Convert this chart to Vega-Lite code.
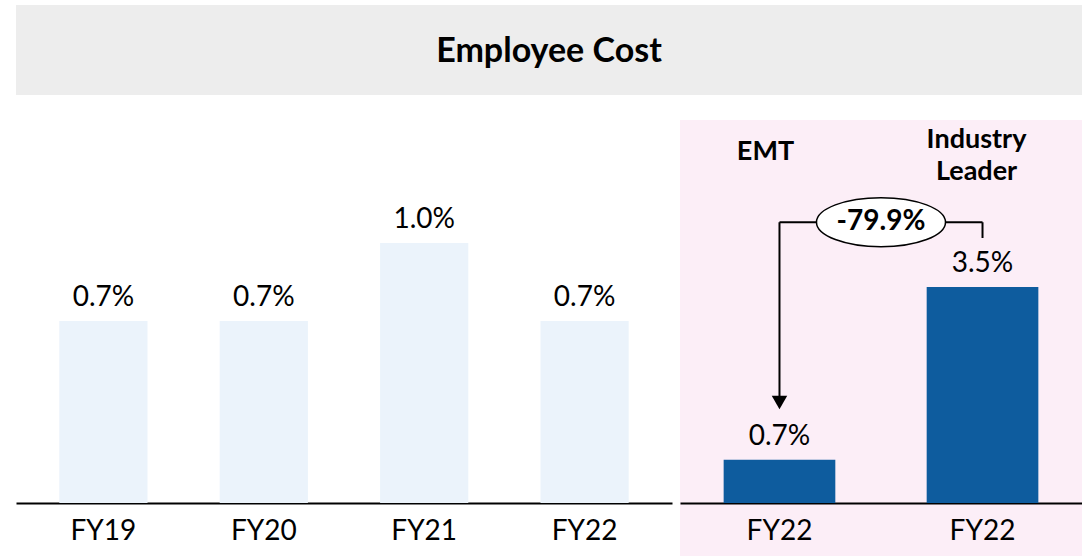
{
  "$schema": "https://vega.github.io/schema/vega-lite/v6.json",
  "padding": {"left": 16, "top": 5, "right": 0, "bottom": 0},
  "background": "white",
  "config": {"font": "Lato", "view": {"stroke": null}},
  "spacing": 25,
  "vconcat": [
    {
      "width": 1066,
      "height": 90,
      "view": {"fill": "#EDEDED", "stroke": null},
      "data": {"values": [{"title": "Employee Cost"}]},
      "mark": {"type": "text", "fontSize": 34, "fontWeight": "bold", "color": "black", "baseline": "middle", "align": "center", "dy": 2},
      "encoding": {"text": {"field": "title"}}
    },
    {
      "spacing": 8,
      "hconcat": [
        {
          "width": 656,
          "height": 436,
          "data": {"values": [
            {"year": "FY19", "value": 0.007},
            {"year": "FY20", "value": 0.007},
            {"year": "FY21", "value": 0.010},
            {"year": "FY22", "value": 0.007}
          ]},
          "encoding": {
            "x": {"field": "year", "type": "nominal", "sort": null,
              "scale": {"paddingInner": 0.45, "paddingOuter": 0.27},
              "axis": {"title": null, "orient": "bottom", "offset": -53, "domainColor": "black", "domainWidth": 2, "ticks": false, "labelFontSize": 28, "labelColor": "black", "labelPadding": 14, "labelAngle": 0}},
            "y": {"field": "value", "type": "quantitative", "scale": {"domain": [-0.00204, 0.01473], "nice": false, "zero": false}, "axis": null}
          },
          "layer": [
            {"mark": {"type": "bar", "color": "#EBF3FB"}, "encoding": {"y2": {"datum": 0}}},
            {"mark": {"type": "text", "baseline": "bottom", "dy": -9, "fontSize": 28, "color": "black"},
             "encoding": {"text": {"field": "value", "format": ".1%"}}}
          ]
        },
        {
          "width": 402,
          "height": 436,
          "view": {"fill": "#FCEEF7", "stroke": null},
          "encoding": {
            "x": {"field": "key", "type": "nominal", "sort": null,
              "scale": {"domain": ["EMT|FY22", "Industry Leader|FY22"], "paddingInner": 0.45, "paddingOuter": 0.215},
              "axis": {"title": null, "orient": "bottom", "offset": -53, "domainColor": "black", "domainWidth": 2, "ticks": false, "labelFontSize": 28, "labelColor": "black", "labelPadding": 14, "labelAngle": 0, "labelExpr": "split(datum.label, '|')[1]"}},
            "y": {"type": "quantitative", "scale": {"domain": [-0.00859, 0.06207], "nice": false, "zero": false}, "axis": null}
          },
          "layer": [
            {
              "data": {"values": [
                {"key": "EMT|FY22", "value": 0.007},
                {"key": "Industry Leader|FY22", "value": 0.035}
              ]},
              "layer": [
                {"mark": {"type": "bar", "color": "#0E5C9E"}, "encoding": {"y": {"field": "value"}, "y2": {"datum": 0}}},
                {"mark": {"type": "text", "baseline": "bottom", "dy": -9, "fontSize": 28, "color": "black"},
                 "encoding": {"y": {"field": "value"}, "text": {"field": "value", "format": ".1%"}}}
              ]
            },
            {
              "data": {"values": [
                {"key": "EMT|FY22", "header": ["EMT"], "hy": 0.0569}
              ]},
              "mark": {"type": "text", "fontSize": 27, "fontWeight": "bold", "color": "black", "baseline": "middle", "lineHeight": 32, "dx": -14},
              "encoding": {"y": {"field": "hy"}, "text": {"field": "header"}}
            },
            {
              "data": {"values": [
                {"key": "Industry Leader|FY22", "header": ["Industry", "Leader"], "hy": 0.0588}
              ]},
              "mark": {"type": "text", "fontSize": 27, "fontWeight": "bold", "color": "black", "baseline": "middle", "lineHeight": 32, "dx": -6},
              "encoding": {"y": {"field": "hy"}, "text": {"field": "header"}}
            },
            {
              "data": {"values": [
                {"from": "EMT|FY22", "to": "Industry Leader|FY22", "level": 0.0455, "tip": 0.0163, "end": 0.04295, "change": "-79.9%"}
              ]},
              "layer": [
                {"mark": {"type": "rule", "color": "black", "strokeWidth": 2},
                 "encoding": {"x": {"field": "from", "bandPosition": 0.5}, "x2": {"field": "to", "bandPosition": 0.5}, "y": {"field": "level"}}},
                {"mark": {"type": "rule", "color": "black", "strokeWidth": 2},
                 "encoding": {"x": {"field": "from", "bandPosition": 0.5}, "y": {"field": "level"}, "y2": {"field": "tip"}}},
                {"mark": {"type": "rule", "color": "black", "strokeWidth": 2},
                 "encoding": {"x": {"field": "to", "bandPosition": 0.5}, "y": {"field": "level"}, "y2": {"field": "end"}}},
                {"mark": {"type": "point", "shape": "triangle-down", "filled": true, "color": "black", "size": 240, "opacity": 1},
                 "encoding": {"x": {"field": "from", "bandPosition": 0.5}, "y": {"field": "tip"}}},
                {"mark": {"type": "point", "shape": "M-1,0A1,0.38,0,1,1,1,0A1,0.38,0,1,1,-1,0Z", "filled": true, "fill": "white", "stroke": "black", "strokeWidth": 1.5, "size": 16641, "opacity": 1, "fillOpacity": 1, "strokeOpacity": 1},
                 "encoding": {"x": {"field": "from", "bandPosition": 1.409}, "y": {"field": "level"}}},
                {"mark": {"type": "text", "fontSize": 28, "fontWeight": "bold", "color": "black", "baseline": "middle"},
                 "encoding": {"x": {"field": "from", "bandPosition": 1.409}, "y": {"field": "level"}, "text": {"field": "change"}}}
              ]
            }
          ]
        }
      ]
    }
  ]
}
